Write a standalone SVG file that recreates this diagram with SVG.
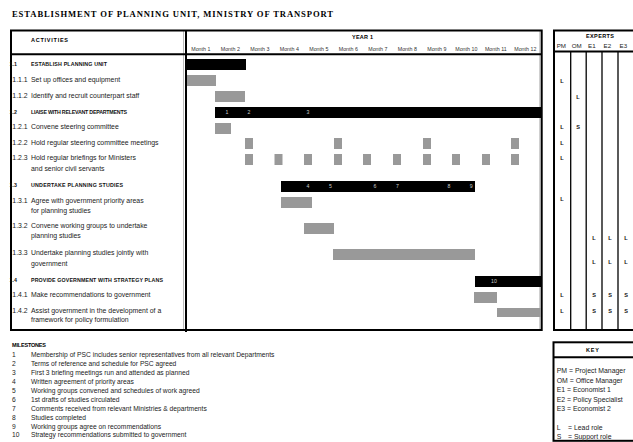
<svg xmlns="http://www.w3.org/2000/svg" width="633" height="442" viewBox="0 0 633 442">
<style>
text{font-family:"Liberation Sans",Arial,sans-serif;fill:#222}
.title{font-family:"Liberation Serif","Times New Roman",serif;font-weight:bold;font-size:8.6px;fill:#000}
.t{font-size:6.9px}
.sec{font-size:5.3px;font-weight:bold;fill:#111}
.hd{font-size:5.5px;font-weight:bold;fill:#000}
.mo{font-size:5.3px;fill:#333;text-anchor:middle}
.ms{font-size:6.7px}
.num{font-size:5.2px;fill:#ccc;text-anchor:middle}
.ex{font-size:5.6px;font-weight:bold;fill:#111;text-anchor:middle}
.exh{font-size:6.2px;fill:#222}
.key{font-size:6.9px}
.bk{fill:#000}
.gr{fill:#999}
.bd{stroke:#000;stroke-width:2;fill:none}
.thin{stroke:#000;stroke-width:1.3;fill:none}
.sh{stroke:#bbb;stroke-width:1;fill:none}
</style>

<text class="title" x="12" y="17" textLength="321" lengthAdjust="spacing">ESTABLISHMENT OF PLANNING UNIT, MINISTRY OF TRANSPORT</text>

<!-- main table frame -->
<g id="main-table">
  <line class="sh" x1="183.5" y1="31" x2="183.5" y2="330"/>
  <line class="sh" x1="539.8" y1="31" x2="539.8" y2="330"/>
  <rect class="bd" x="11" y="30.5" width="530.7" height="299.5"/>
  <line class="bd" x1="186" y1="30.5" x2="186" y2="332"/>
  <line class="bd" x1="11" y1="54.3" x2="541.7" y2="54.3"/>
  <text class="hd" x="31" y="42" textLength="37" lengthAdjust="spacing">ACTIVITIES</text>
  <text class="hd" x="352" y="38.8" textLength="21" lengthAdjust="spacing">YEAR 1</text>
  <text class="mo" x="200.8" y="51">Month 1</text>
  <text class="mo" x="230.3" y="51">Month 2</text>
  <text class="mo" x="259.8" y="51">Month 3</text>
  <text class="mo" x="289.3" y="51">Month 4</text>
  <text class="mo" x="318.8" y="51">Month 5</text>
  <text class="mo" x="348.3" y="51">Month 6</text>
  <text class="mo" x="377.8" y="51">Month 7</text>
  <text class="mo" x="407.3" y="51">Month 8</text>
  <text class="mo" x="436.8" y="51">Month 9</text>
  <text class="mo" x="466.3" y="51">Month 10</text>
  <text class="mo" x="495.8" y="51">Month 11</text>
  <text class="mo" x="525.3" y="51">Month 12</text>
</g>

<g id="row-1-1">
  <text class="sec" x="9.5" y="65.5">1.1</text>
  <text class="sec" x="31" y="65.5" textLength="76" lengthAdjust="spacing">ESTABLISH PLANNING UNIT</text>
  <rect class="bk" x="187" y="59" width="59" height="11"/>
</g>
<g id="row-1-1-1">
  <text class="t" x="12.3" y="82.4">1.1.1</text>
  <text class="t" x="31" y="82.4">Set up offices and equipment</text>
  <rect class="gr" x="187" y="75" width="29" height="11"/>
</g>
<g id="row-1-1-2">
  <text class="t" x="12.3" y="98.4">1.1.2</text>
  <text class="t" x="31" y="98.4">Identify and recruit counterpart staff</text>
  <rect class="gr" x="215" y="91" width="30" height="11"/>
</g>
<g id="row-1-2">
  <text class="sec" x="9.5" y="113.5">1.2</text>
  <text class="sec" x="31" y="113.5" textLength="96" lengthAdjust="spacing">LIAISE WITH RELEVANT DEPARTMENTS</text>
  <rect class="bk" x="215" y="107" width="326" height="11"/>
  <text class="num" x="227" y="114.3">1</text>
  <text class="num" x="249" y="114.3">2</text>
  <text class="num" x="308" y="114.3">3</text>
</g>
<g id="row-1-2-1">
  <text class="t" x="12.3" y="129.2">1.2.1</text>
  <text class="t" x="31" y="129.2">Convene steering committee</text>
  <rect class="gr" x="215" y="123" width="16" height="11"/>
</g>
<g id="row-1-2-2">
  <text class="t" x="12.3" y="144.8">1.2.2</text>
  <text class="t" x="31" y="144.8">Hold regular steering committee meetings</text>
  <rect class="gr" x="245" y="138" width="8" height="11"/>
  <rect class="gr" x="334" y="138" width="8" height="11"/>
  <rect class="gr" x="423" y="138" width="8" height="11"/>
  <rect class="gr" x="511" y="138" width="8" height="11"/>
</g>
<g id="row-1-2-3">
  <text class="t" x="12.3" y="160.2">1.2.3</text>
  <text class="t" x="31" y="160.2">Hold regular briefings for Ministers</text>
  <text class="t" x="31" y="170.7">and senior civil servants</text>
  <rect class="gr" x="245" y="154" width="8" height="11"/>
  <rect class="gr" x="274.5" y="154" width="8" height="11"/>
  <rect class="gr" x="304" y="154" width="8" height="11"/>
  <rect class="gr" x="334" y="154" width="8" height="11"/>
  <rect class="gr" x="363" y="154" width="8" height="11"/>
  <rect class="gr" x="393" y="154" width="8" height="11"/>
  <rect class="gr" x="423" y="154" width="8" height="11"/>
  <rect class="gr" x="452" y="154" width="8" height="11"/>
  <rect class="gr" x="482" y="154" width="8" height="11"/>
  <rect class="gr" x="511" y="154" width="8" height="11"/>
</g>
<g id="row-1-3">
  <text class="sec" x="9.5" y="187">1.3</text>
  <text class="sec" x="31" y="187" textLength="92" lengthAdjust="spacing">UNDERTAKE PLANNING STUDIES</text>
  <rect class="bk" x="281" y="181" width="194" height="11"/>
  <text class="num" x="308" y="188.3">4</text>
  <text class="num" x="330.5" y="188.3">5</text>
  <text class="num" x="375" y="188.3">6</text>
  <text class="num" x="397.5" y="188.3">7</text>
  <text class="num" x="449" y="188.3">8</text>
  <text class="num" x="471.3" y="188.3">9</text>
</g>
<g id="row-1-3-1">
  <text class="t" x="12.3" y="202.7">1.3.1</text>
  <text class="t" x="31" y="202.7">Agree with government priority areas</text>
  <text class="t" x="31" y="212.7">for planning studies</text>
  <rect class="gr" x="281" y="197" width="31" height="11"/>
</g>
<g id="row-1-3-2">
  <text class="t" x="12.3" y="228.1">1.3.2</text>
  <text class="t" x="31" y="228.1">Convene working groups to undertake</text>
  <text class="t" x="31" y="238.4">planning studies</text>
  <rect class="gr" x="304" y="223" width="30" height="11"/>
</g>
<g id="row-1-3-3">
  <text class="t" x="12.3" y="255.4">1.3.3</text>
  <text class="t" x="31" y="255.4">Undertake planning studies jointly with</text>
  <text class="t" x="31" y="265.7">government</text>
  <rect class="gr" x="333" y="249" width="142" height="11"/>
</g>
<g id="row-1-4">
  <text class="sec" x="9.5" y="281.5">1.4</text>
  <text class="sec" x="31" y="281.5" textLength="132" lengthAdjust="spacing">PROVIDE GOVERNMENT WITH STRATEGY PLANS</text>
  <rect class="bk" x="475" y="276" width="66" height="11"/>
  <text class="num" x="494" y="283.3">10</text>
</g>
<g id="row-1-4-1">
  <text class="t" x="12.3" y="297.4">1.4.1</text>
  <text class="t" x="31" y="297.4">Make recommendations to government</text>
  <rect class="gr" x="474" y="292" width="23" height="11"/>
</g>
<g id="row-1-4-2">
  <text class="t" x="12.3" y="313.1">1.4.2</text>
  <text class="t" x="31" y="313.1">Assist government in the development of a</text>
  <text class="t" x="31" y="322.4">framework for policy formulation</text>
  <rect class="gr" x="497" y="308" width="44" height="9"/>
</g>

<!-- experts table -->
<g id="experts">
  <rect class="bd" x="554" y="30.5" width="100" height="299.5"/>
  <line class="bd" x1="554" y1="51.5" x2="640" y2="51.5"/>
  <line class="thin" x1="570.7" y1="51.5" x2="570.7" y2="330"/>
  <line class="thin" x1="586.2" y1="51.5" x2="586.2" y2="330"/>
  <line class="thin" x1="602" y1="51.5" x2="602" y2="330"/>
  <line class="thin" x1="618" y1="51.5" x2="618" y2="330"/>
  <text class="hd" x="586" y="37.5" textLength="28" lengthAdjust="spacing">EXPERTS</text>
  <text class="exh" x="556.7" y="48">PM</text>
  <text class="exh" x="571.7" y="48">OM</text>
  <text class="exh" x="588" y="48">E1</text>
  <text class="exh" x="603.5" y="48">E2</text>
  <text class="exh" x="619.5" y="48">E3</text>
  <text class="ex" x="562" y="82.5">L</text>
  <text class="ex" x="578" y="99">L</text>
  <text class="ex" x="562" y="128.7">L</text>
  <text class="ex" x="578" y="128.7">S</text>
  <text class="ex" x="562" y="144.7">L</text>
  <text class="ex" x="562" y="159.5">L</text>
  <text class="ex" x="562" y="201">L</text>
  <text class="ex" x="594" y="239.5">L</text>
  <text class="ex" x="610" y="239.5">L</text>
  <text class="ex" x="626" y="239.5">L</text>
  <text class="ex" x="594" y="264">L</text>
  <text class="ex" x="610" y="264">L</text>
  <text class="ex" x="626" y="264">L</text>
  <text class="ex" x="562" y="297">L</text>
  <text class="ex" x="594" y="297">S</text>
  <text class="ex" x="610" y="297">S</text>
  <text class="ex" x="626" y="297">S</text>
  <text class="ex" x="562" y="312.5">L</text>
  <text class="ex" x="594" y="312.5">S</text>
  <text class="ex" x="610" y="312.5">S</text>
  <text class="ex" x="626" y="312.5">S</text>
</g>

<!-- milestones -->
<g id="milestones">
  <text class="hd" x="12" y="347" textLength="34" lengthAdjust="spacing">MILESTONES</text>
  <text class="ms" x="12" y="357.3">1</text><text class="ms" x="31" y="357.3">Membership of PSC includes senior representatives from all relevant Departments</text>
  <text class="ms" x="12" y="366.2">2</text><text class="ms" x="31" y="366.2">Terms of reference and schedule for PSC agreed</text>
  <text class="ms" x="12" y="375.1">3</text><text class="ms" x="31" y="375.1">First 3 briefing meetings run and attended as planned</text>
  <text class="ms" x="12" y="384">4</text><text class="ms" x="31" y="384">Written agreement of priority areas</text>
  <text class="ms" x="12" y="392.9">5</text><text class="ms" x="31" y="392.9">Working groups convened and schedules of work agreed</text>
  <text class="ms" x="12" y="401.8">6</text><text class="ms" x="31" y="401.8">1st drafts of studies circulated</text>
  <text class="ms" x="12" y="410.7">7</text><text class="ms" x="31" y="410.7">Comments received from relevant Ministries &amp; departments</text>
  <text class="ms" x="12" y="419.6">8</text><text class="ms" x="31" y="419.6">Studies completed</text>
  <text class="ms" x="12" y="428.5">9</text><text class="ms" x="31" y="428.5">Working groups agree on recommendations</text>
  <text class="ms" x="12" y="437.4">10</text><text class="ms" x="31" y="437.4">Strategy recommendations submitted to government</text>
</g>

<!-- key -->
<g id="key">
  <rect class="bd" x="553.5" y="342.3" width="100" height="98.5"/>
  <line class="bd" x1="553.5" y1="357.3" x2="640" y2="357.3"/>
  <text class="hd" x="586" y="351.5" textLength="13" lengthAdjust="spacing">KEY</text>
  <text class="key" x="556.7" y="373.3">PM = Project Manager</text>
  <text class="key" x="556.7" y="382.8">OM = Office Manager</text>
  <text class="key" x="556.7" y="392.3">E1 = Economist 1</text>
  <text class="key" x="556.7" y="401.8">E2 = Policy Specialist</text>
  <text class="key" x="556.7" y="411.3">E3 = Economist 2</text>
  <text class="key" x="556.7" y="430.3">L</text><text class="key" x="568" y="430.3">= Lead role</text>
  <text class="key" x="556.7" y="439.3">S</text><text class="key" x="568" y="439.3">= Support role</text>
</g>
</svg>
